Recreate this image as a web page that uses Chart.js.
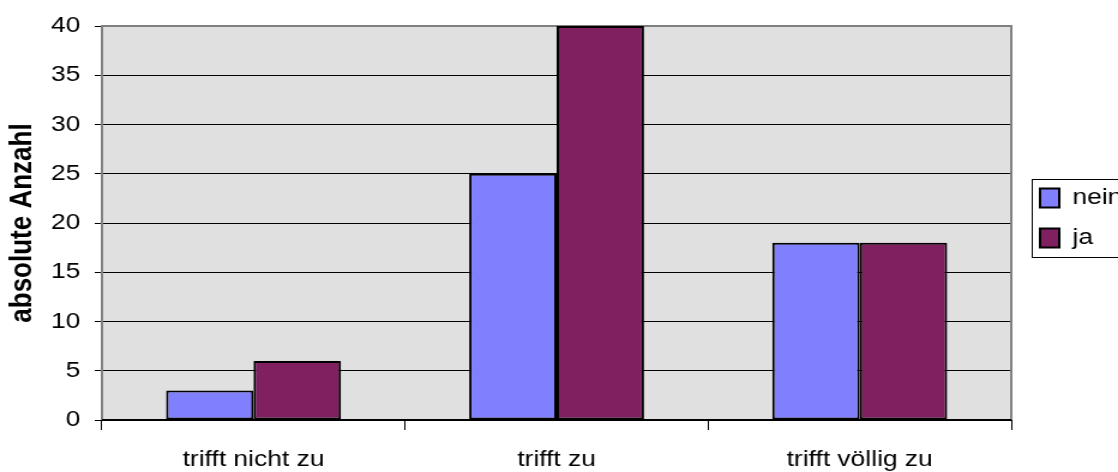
<!DOCTYPE html>
<html>
<head>
<meta charset="utf-8">
<script src="https://cdn.jsdelivr.net/npm/chart.js@4.4.1/dist/chart.umd.min.js"></script>
<style>
  html, body { margin: 0; padding: 0; background: #fff; overflow: hidden; }
  /* the reference is stretched horizontally, so draw narrow and scale */
  #wrap { width: 932px; height: 472px; transform: scaleX(1.1996); transform-origin: 0 0; }
</style>
</head>
<body>
<div id="wrap"><canvas id="chart" width="932" height="472"></canvas></div>
<script>
const categories = ['trifft nicht zu', 'trifft zu', 'trifft völlig zu']
const neinValues = [3, 25, 18]
const jaValues = [6, 40, 18]
const yMax = 40
const yStep = 5

Chart.defaults.font.family = "'Liberation Sans', Arial, sans-serif"
Chart.defaults.color = '#000'

const legendNudge = { x: 6, y: -5 }

// plot background and grey frame
const plotFrame = {
  id: 'plotFrame',
  beforeDraw(chart) {
    const { ctx, chartArea: a } = chart
    ctx.save()
    ctx.fillStyle = '#e0e0e0'
    ctx.fillRect(a.left, a.top, a.right - a.left, a.bottom - a.top)
    ctx.restore()
  },
  beforeDatasetsDraw(chart) {
    const { ctx, chartArea: a } = chart
    ctx.save()
    ctx.strokeStyle = '#808080'
    ctx.lineWidth = 2
    ctx.beginPath()
    ctx.moveTo(a.left, a.bottom)
    ctx.lineTo(a.left, a.top)
    ctx.lineTo(a.right, a.top)
    ctx.lineTo(a.right, a.bottom)
    ctx.stroke()
    ctx.strokeStyle = '#000'
    ctx.beginPath()
    ctx.moveTo(a.left, a.bottom)
    ctx.lineTo(a.right, a.bottom)
    ctx.stroke()
    ctx.restore()
  },
  // fixed legend width, small offset and a box around it
  beforeUpdate(chart) {
    const lg = chart.legend
    if (!lg || lg._patched) return
    lg._patched = true
    const fit = lg.fit.bind(lg)
    lg.fit = function () { fit(); this.width = 89 }
    const draw = lg.draw.bind(lg)
    lg.draw = function () {
      const ctx = this.ctx
      ctx.save()
      ctx.translate(legendNudge.x, legendNudge.y)
      draw()
      ctx.restore()
      const hb = this.legendHitBoxes
      if (!hb || !hb.length) return
      const top = hb[0].top + legendNudge.y - 8
      const last = hb[hb.length - 1]
      const bottom = last.top + last.height + legendNudge.y + 8
      ctx.save()
      ctx.strokeStyle = '#000'
      ctx.lineWidth = 1
      ctx.strokeRect(this.left + 17.5, Math.round(top) + 0.5, 100, Math.round(bottom - top))
      ctx.restore()
    }
  }
}

new Chart(document.getElementById('chart'), {
  type: 'bar',
  data: {
    labels: categories,
    datasets: [
      {
        label: 'nein',
        data: neinValues,
        backgroundColor: '#8080ff',
        borderColor: '#000',
        borderWidth: 2,
        borderSkipped: false
      },
      {
        label: 'ja',
        data: jaValues,
        backgroundColor: '#802060',
        borderColor: '#000',
        borderWidth: 2,
        borderSkipped: false
      }
    ]
  },
  options: {
    responsive: false,
    animation: false,
    events: [],
    categoryPercentage: 0.577,
    barPercentage: 1.0,
    layout: { padding: { top: 26, right: 0, bottom: 0, left: 0 } },
    plugins: {
      legend: {
        position: 'right',
        fullSize: false,
        labels: {
          boxWidth: 16,
          boxHeight: 19,
          padding: 18,
          color: '#000',
          font: { size: 22 }
        }
      },
      tooltip: { enabled: false }
    },
    scales: {
      x: {
        grid: {
          drawOnChartArea: false,
          color: '#000',
          tickLength: 10,
          offset: true
        },
        border: { display: false },
        ticks: {
          color: '#000',
          font: { size: 22 },
          maxRotation: 0,
          padding: 17
        },
        afterFit(s) { s.height = 52 }
      },
      y: {
        min: 0,
        max: yMax,
        grid: {
          color: c => (c.tick && c.tick.value === yMax ? '#808080' : '#000'),
          tickColor: '#000',
          tickLength: 6
        },
        border: { display: false },
        ticks: {
          stepSize: yStep,
          color: '#000',
          font: { size: 22 },
          padding: 12
        },
        title: {
          display: true,
          text: 'absolute Anzahl',
          color: '#000',
          font: { size: 26, weight: 'bold' },
          padding: { top: 3, bottom: 0 }
        },
        afterFit(s) { s.width = 85 }
      }
    }
  },
  plugins: [plotFrame]
})
</script>
</body>
</html>
